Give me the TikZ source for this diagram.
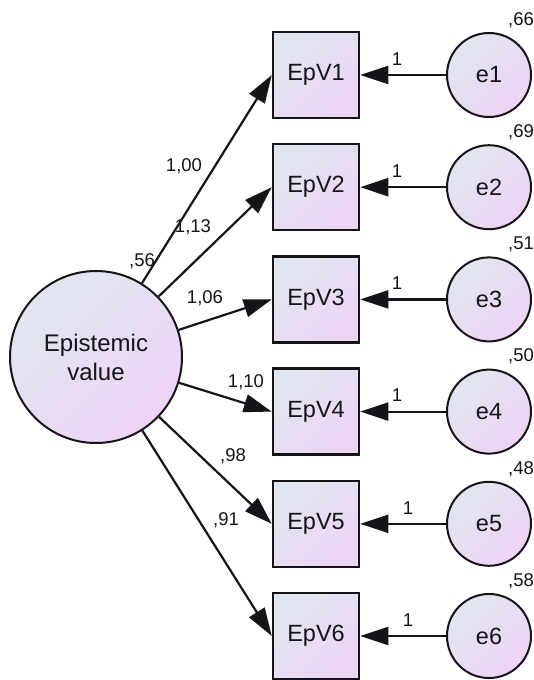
\documentclass[tikz,border=0pt]{standalone}
\usepackage{fontspec}
\setmainfont{Liberation Sans}
\usetikzlibrary{arrows.meta}
\definecolor{fillA}{RGB}{224,230,240}
\definecolor{fillB}{RGB}{238,212,245}
\definecolor{ink}{RGB}{20,20,25}
\tikzset{
  shadefill/.style={top color=fillA, bottom color=fillB, shading angle=45},
  latent/.style={circle, draw=ink, line width=2pt, shadefill, minimum size=172pt, inner sep=0pt,
                 align=center, font=\fontsize{24}{29}\selectfont, text=ink},
  observed/.style={rectangle, draw=ink, line width=2.5pt, shadefill, minimum size=86pt, inner sep=0pt,
                   font=\fontsize{23.5}{28}\selectfont, text=ink},
  errorvar/.style={circle, draw=ink, line width=2pt, shadefill, minimum size=84pt, inner sep=0pt,
                   font=\fontsize{23.5}{28}\selectfont, text=ink},
  est/.style={font=\fontsize{18.5}{22}\selectfont, text=ink, inner sep=0pt},
  path arrow/.style={draw=ink, line width=2.2pt, -{Triangle[length=28pt,width=18pt]}},
}
\begin{document}
\begin{tikzpicture}[x=1pt,y=-1pt]
\useasboundingbox (0,0) rectangle (534,680);

% latent factor
\node[latent] (ev) at (96,357) {Epistemic\\value};
\node[est] (evvar) at (142,261) {,56};

% indicators
\foreach \i/\y in {1/75,2/187.2,3/299.4,4/411.6,5/523.8,6/636}{
  \node[observed] (b\i) at (316,\y) {EpV\i};
  \node[errorvar] (e\i) at (489,\y) {e\i};
}

% error variances
\node[est] (v1) at (521,20) {,66};
\node[est] (v2) at (521,132.2) {,69};
\node[est] (v3) at (521,244.4) {,51};
\node[est] (v4) at (521,356.6) {,50};
\node[est] (v5) at (521,468.8) {,48};
\node[est] (v6) at (521,581) {,58};

% loadings
\foreach \i in {1,...,6}{
  \draw[path arrow] (ev) -- (b\i.west);
}
\node[est] (l1) at (184,166) {1,00};
\node[est] (l2) at (193,227) {1,13};
\node[est] (l3) at (205,298) {1,06};
\node[est] (l4) at (246,382) {1,10};
\node[est] (l5) at (233,456) {,98};
\node[est] (l6) at (226,520) {,91};

% error paths fixed to 1
\foreach \i/\x in {1/397,2/397,3/397,4/397,5/408,6/408}{
  \draw[path arrow] (e\i) -- (b\i.east);
  \path (e\i) ++(\x-489,-16) node[est] (f\i) {1};
}
\end{tikzpicture}
\end{document}
